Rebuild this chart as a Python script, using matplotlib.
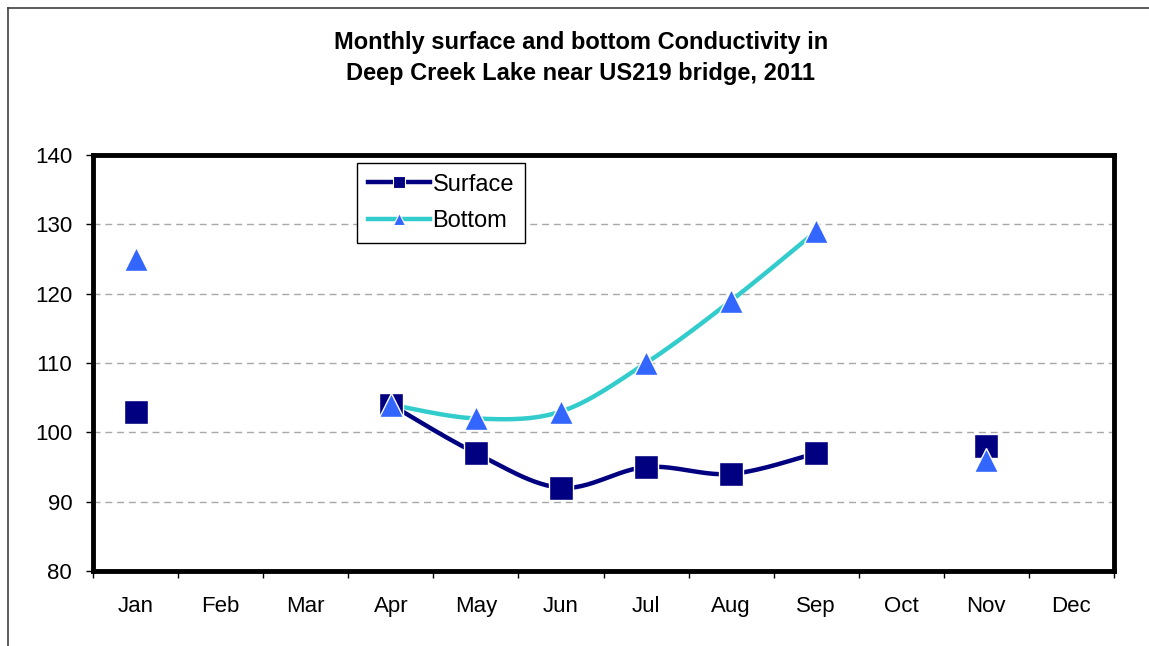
import numpy as np
import matplotlib
matplotlib.use("Agg")
import matplotlib.pyplot as plt
from matplotlib.lines import Line2D

months = ["Jan", "Feb", "Mar", "Apr", "May", "Jun", "Jul", "Aug", "Sep", "Oct", "Nov", "Dec"]
surface = [103, None, None, 104, 97, 92, 95, 94, 97, None, 98, None]
bottom = [125, None, None, 104, 102, 103, 110, 119, 129, None, 96, None]
y_ticks = [80, 90, 100, 110, 120, 130, 140]

NAVY = "#000080"
TEAL = "#33CCCC"
TRI = "#3366FF"

plt.rcParams["font.family"] = ["Liberation Sans", "DejaVu Sans"]


def runs(values):
    """Split a series into runs of consecutive non-missing points."""
    out, cur = [], []
    for i, v in enumerate(values):
        if v is None:
            if cur:
                out.append(cur)
            cur = []
        else:
            cur.append((i, v))
    if cur:
        out.append(cur)
    return out


def smooth(points, n=30):
    """Catmull-Rom curve through the points (spreadsheet-style smoothed line)."""
    p = np.array(points, dtype=float)
    if len(p) < 2:
        return p[:, 0], p[:, 1]
    ext = np.vstack([p[0], p, p[-1]])
    xs, ys = [], []
    t = np.linspace(0, 1, n)
    for k in range(1, len(ext) - 2):
        p0, p1, p2, p3 = ext[k - 1], ext[k], ext[k + 1], ext[k + 2]
        c1 = p1 + (p2 - p0) / 6.0
        c2 = p2 - (p3 - p1) / 6.0
        seg = ((1 - t) ** 3)[:, None] * p1 + (3 * (1 - t) ** 2 * t)[:, None] * c1 \
            + (3 * (1 - t) * t ** 2)[:, None] * c2 + (t ** 3)[:, None] * p2
        xs.extend(seg[:, 0])
        ys.extend(seg[:, 1])
    return np.array(xs), np.array(ys)


W, H = 1149, 646
fig = plt.figure(figsize=(W / 100, H / 100), dpi=100)
ax = fig.add_axes([93 / W, (H - 571) / H, (1114 - 93) / W, (571 - 155) / H])

# chart-area frame (top and left edges fall inside the image)
fig.add_artist(Line2D([7.5 / W, 7.5 / W], [0, (H - 7.5) / H], color="#404040", lw=1.2,
                      transform=fig.transFigure))
fig.add_artist(Line2D([7.5 / W, 1], [(H - 7.5) / H, (H - 7.5) / H], color="#404040", lw=1.2,
                      transform=fig.transFigure))

for series, lc, mc, mk, ms, zo in [(surface, NAVY, NAVY, "s", 17.5, 3),
                                   (bottom, TEAL, TRI, "^", 17, 4)]:
    for r in runs(series):
        if len(r) > 1:
            sx, sy = smooth(r)
            ax.plot(sx, sy, color=lc, lw=3.2, solid_capstyle="butt", zorder=zo)
    xi = [i for i, v in enumerate(series) if v is not None]
    yi = [v for v in series if v is not None]
    ax.plot(xi, yi, ls="none", marker=mk, ms=ms, mfc=mc, mec="white", mew=1.0, zorder=zo + 2)

ax.set_xlim(-0.5, 11.5)
ax.set_ylim(80, 140)
ax.set_yticks(y_ticks)
ax.set_xticks(range(12))
ax.set_xticklabels(months)
ax.set_xticks(np.arange(-0.5, 12, 1), minor=True)
ax.tick_params(axis="x", which="major", length=0, pad=18, labelsize=16)
ax.tick_params(axis="x", which="minor", length=5, width=1, direction="out")
ax.tick_params(axis="y", length=5, width=1, pad=10, labelsize=16)

ax.yaxis.grid(True, color="#A8A8A8", lw=1, linestyle=(0, (5, 3.5)))
ax.set_axisbelow(True)
for s in ax.spines.values():
    s.set_linewidth(3.5)
    s.set_color("black")

handles = [Line2D([], [], color=NAVY, lw=3.2, marker="s", ms=8, mfc=NAVY, mec="white", mew=0.8),
           Line2D([], [], color=TEAL, lw=3.2, marker="^", ms=8, mfc=TRI, mec="white", mew=0.8)]
leg = ax.legend(handles, ["Surface", "Bottom"], loc="upper left",
                bbox_to_anchor=((357 - 93) / 1021, (571 - 163) / 416),
                fontsize=17, frameon=True, fancybox=False, framealpha=1,
                edgecolor="black", handlelength=2.65, handletextpad=0.1,
                borderpad=0.45, labelspacing=0.62, borderaxespad=0)
leg.get_frame().set_linewidth(1)

fig.text(581 / W, 1 - 49.3 / H, "Monthly surface and bottom Conductivity in",
         ha="center", va="baseline", fontsize=17, fontweight="bold")
fig.text(581 / W, 1 - 80 / H, "Deep Creek Lake near US219 bridge, 2011",
         ha="center", va="baseline", fontsize=17, fontweight="bold")

fig.savefig("out.png", dpi=100)
